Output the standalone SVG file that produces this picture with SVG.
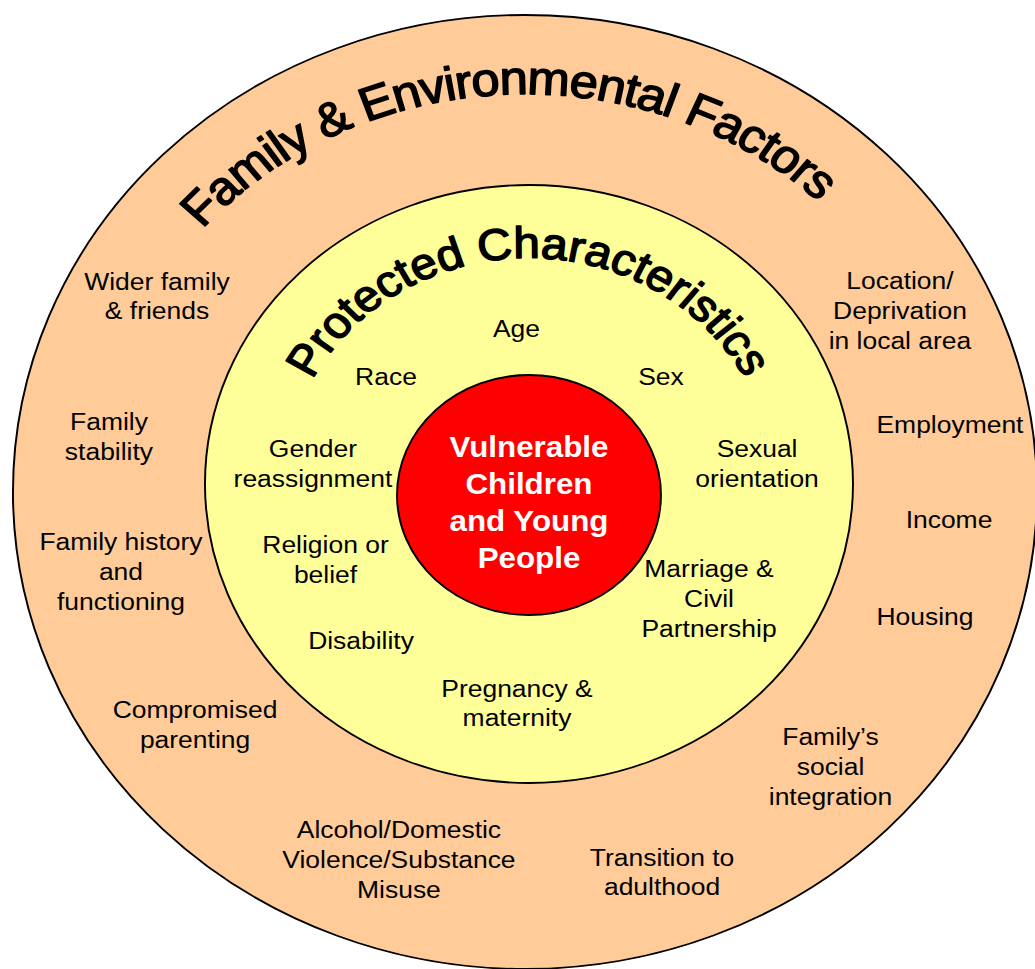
<svg xmlns="http://www.w3.org/2000/svg" xmlns:xlink="http://www.w3.org/1999/xlink" width="1035" height="969" viewBox="0 0 1035 969">
<style>
.ring { stroke:#000; stroke-width:1.8; }
.outer { fill:#FFCC99; }
.inner { fill:#FFFF99; }
.core { fill:#FF0000; }
.t { font-family:"Liberation Sans", Arial, sans-serif; font-size:24.5px; fill:#000; text-anchor:middle; }
.c { font-family:"Liberation Sans", Arial, sans-serif; font-size:29px; font-weight:bold; fill:#FFFFFF; text-anchor:middle; }
.ttl { font-family:"Liberation Sans", Arial, sans-serif; fill:#000; stroke:#000; stroke-width:1.5; stroke-linejoin:round; text-anchor:middle; }
</style>
<defs>
<path id="arcOuter" d="M 88.1 492 A 398 398 0 0 1 884.1 492"/>
<path id="arcInner" d="M 263.8 484 A 226 226 0 0 1 715.8 484"/>
</defs>
<rect width="1035" height="969" fill="#FFFFFF"/>
<g transform="scale(1.08 1)">
  <g id="family-environmental-factors">
    <ellipse class="ring outer" cx="486.1" cy="492" rx="474.1" ry="477"/>
    <text class="ttl" font-size="47" letter-spacing="-1"><textPath xlink:href="#arcOuter" href="#arcOuter" startOffset="605.4">Family &amp; Environmental Factors</textPath></text>
  </g>
  <g id="protected-characteristics">
    <ellipse class="ring inner" cx="489.8" cy="484" rx="300" ry="299"/>
    <text class="ttl" font-size="44" letter-spacing="0"><textPath xlink:href="#arcInner" href="#arcInner" startOffset="354">Protected Characteristics</textPath></text>
  </g>
  <g id="vulnerable-children">
    <ellipse class="ring core" cx="489.8" cy="495" rx="122.2" ry="120"/>
    <text class="c"><tspan x="489.8" y="457">Vulnerable</tspan><tspan x="489.8" y="494">Children</tspan><tspan x="489.8" y="531">and Young</tspan><tspan x="489.8" y="568">People</tspan></text>
  </g>
  <g id="wider-family"><text class="t"><tspan x="145.4" y="290">Wider family</tspan><tspan x="145.4" y="319">&amp; friends</tspan></text></g>
  <g id="family-stability"><text class="t"><tspan x="100.9" y="430">Family</tspan><tspan x="100.9" y="460">stability</tspan></text></g>
  <g id="family-history"><text class="t"><tspan x="112" y="550">Family history</tspan><tspan x="112" y="580">and</tspan><tspan x="112" y="610">functioning</tspan></text></g>
  <g id="compromised-parenting"><text class="t"><tspan x="180.6" y="718">Compromised</tspan><tspan x="180.6" y="748">parenting</tspan></text></g>
  <g id="alcohol"><text class="t"><tspan x="369.4" y="838">Alcohol/Domestic</tspan><tspan x="369.4" y="868">Violence/Substance</tspan><tspan x="369.4" y="898">Misuse</tspan></text></g>
  <g id="transition"><text class="t"><tspan x="613" y="866">Transition to</tspan><tspan x="613" y="895">adulthood</tspan></text></g>
  <g id="social-integration"><text class="t"><tspan x="769" y="745">Family’s</tspan><tspan x="769" y="775">social</tspan><tspan x="769" y="805">integration</tspan></text></g>
  <g id="location"><text class="t"><tspan x="833.3" y="289">Location/</tspan><tspan x="833.3" y="319">Deprivation</tspan><tspan x="833.3" y="349">in local area</tspan></text></g>
  <g id="employment"><text class="t" x="879.6" y="433">Employment</text></g>
  <g id="income"><text class="t" x="878.7" y="528">Income</text></g>
  <g id="housing"><text class="t" x="856.5" y="625">Housing</text></g>
  <g id="age"><text class="t" x="478.2" y="337">Age</text></g>
  <g id="race"><text class="t" x="357.4" y="385">Race</text></g>
  <g id="sex"><text class="t" x="612" y="385">Sex</text></g>
  <g id="gender-reassignment"><text class="t"><tspan x="289.8" y="457">Gender</tspan><tspan x="289.8" y="487">reassignment</tspan></text></g>
  <g id="religion"><text class="t"><tspan x="301.4" y="553">Religion or</tspan><tspan x="301.4" y="583">belief</tspan></text></g>
  <g id="disability"><text class="t" x="334.3" y="649">Disability</text></g>
  <g id="sexual-orientation"><text class="t"><tspan x="701" y="457">Sexual</tspan><tspan x="701" y="487">orientation</tspan></text></g>
  <g id="marriage"><text class="t"><tspan x="656.5" y="577">Marriage &amp;</tspan><tspan x="656.5" y="607">Civil</tspan><tspan x="656.5" y="637">Partnership</tspan></text></g>
  <g id="pregnancy"><text class="t"><tspan x="478.7" y="697">Pregnancy &amp;</tspan><tspan x="478.7" y="726">maternity</tspan></text></g>
</g>
<g id="connectors"/>
</svg>
